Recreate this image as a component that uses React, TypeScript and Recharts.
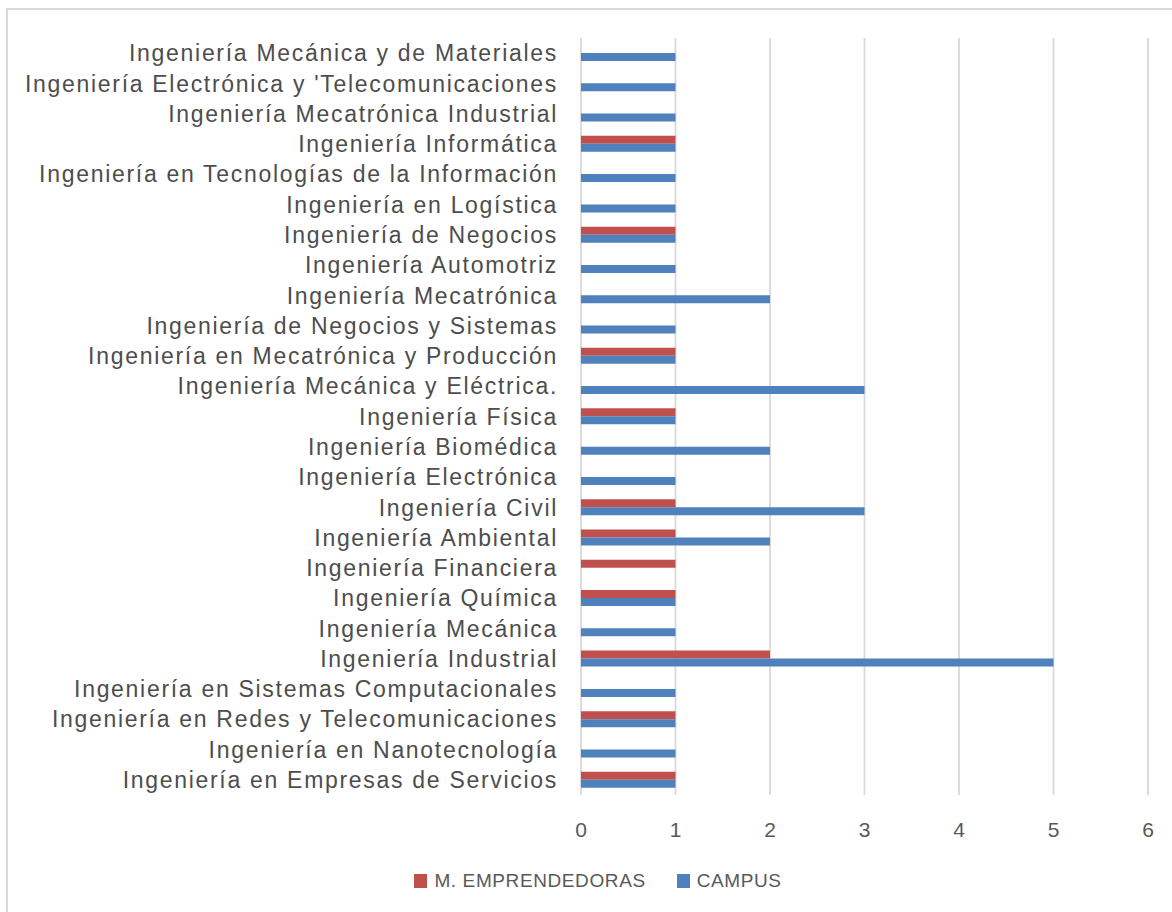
import React from "react";
import { BarChart, Bar, XAxis, YAxis, CartesianGrid, Legend } from "recharts";

const categories = [
  "Ingeniería Mecánica y de Materiales",
  "Ingeniería Electrónica y 'Telecomunicaciones",
  "Ingeniería Mecatrónica Industrial",
  "Ingeniería Informática",
  "Ingeniería en Tecnologías de la Información",
  "Ingeniería en Logística",
  "Ingeniería de Negocios",
  "Ingeniería Automotriz",
  "Ingeniería Mecatrónica",
  "Ingeniería de Negocios y Sistemas",
  "Ingeniería en Mecatrónica y Producción",
  "Ingeniería Mecánica y Eléctrica.",
  "Ingeniería Física",
  "Ingeniería Biomédica",
  "Ingeniería Electrónica",
  "Ingeniería Civil",
  "Ingeniería Ambiental",
  "Ingeniería Financiera",
  "Ingeniería Química",
  "Ingeniería Mecánica",
  "Ingeniería Industrial",
  "Ingeniería en Sistemas Computacionales",
  "Ingeniería en Redes y Telecomunicaciones",
  "Ingeniería en Nanotecnología",
  "Ingeniería en Empresas de Servicios",
];

const emprendedoras = [0, 0, 0, 1, 0, 0, 1, 0, 0, 0, 1, 0, 1, 0, 0, 1, 1, 1, 1, 0, 2, 0, 1, 0, 1];
const campus = [1, 1, 1, 1, 1, 1, 1, 1, 2, 1, 1, 3, 1, 2, 1, 3, 2, 0, 1, 1, 5, 1, 1, 1, 1];
const xTicks = [0, 1, 2, 3, 4, 5, 6];

const seriesNames = ["M. EMPRENDEDORAS", "CAMPUS"];
const colors = ["#C0504D", "#4F81BD"];

const data = categories.map((c, i) => ({
  name: c,
  emp: emprendedoras[i],
  campus: campus[i],
}));

const FONT = "'Liberation Sans', Arial, sans-serif";

const LegendContent = () => (
  <div
    style={{
      display: "flex",
      justifyContent: "center",
      alignItems: "center",
      fontFamily: FONT,
      fontSize: 19,
      letterSpacing: 0.6,
      color: "#595959",
      gap: 31,
      paddingLeft: 48,
      lineHeight: "24px",
    }}
  >
    {seriesNames.map((n, i) => (
      <div key={n} style={{ display: "flex", alignItems: "center" }}>
        <span
          style={{
            display: "inline-block",
            width: 13,
            height: 14,
            background: colors[i],
            marginRight: 7,
          }}
        />
        <span>{n}</span>
      </div>
    ))}
  </div>
);

export default function App() {
  return (
    <div
      style={{
        position: "absolute",
        left: 0,
        top: 0,
        width: 1172,
        height: 912,
        background: "#fff",
        overflow: "hidden",
      }}
    >
      <div
        style={{
          position: "absolute",
          left: 6,
          top: 8,
          width: 1200,
          height: 1000,
          border: "2px solid #d9d9d9",
          boxSizing: "border-box",
        }}
      />
      <div style={{ position: "absolute", left: 0, top: 0 }}>
        <BarChart
          width={1172}
          height={912}
          data={data}
          layout="vertical"
          barSize={8}
          barGap={0}
          margin={{ top: 38, right: 24, bottom: 0, left: 0 }}
        >
          <CartesianGrid horizontal={false} vertical={true} stroke="#d9d9d9" strokeWidth={1.8} />
          <XAxis
            type="number"
            domain={[0, 6]}
            ticks={xTicks}
            axisLine={false}
            tickLine={false}
            tickSize={0}
            tickMargin={27}
            height={93}
            tick={{ fill: "#595959", fontSize: 21, fontFamily: FONT }}
          />
          <YAxis
            type="category"
            dataKey="name"
            width={581}
            axisLine={false}
            tickLine={false}
            tickSize={0}
            tickMargin={23}
            interval={0}
            tick={{ fill: "#4d4d4d", fontSize: 23, fontFamily: FONT, letterSpacing: 1.7 }}
          />
          <Legend
            verticalAlign="bottom"
            height={24}
            wrapperStyle={{ bottom: 19 }}
            content={<LegendContent />}
          />
          <Bar dataKey="emp" name={seriesNames[0]} fill={colors[0]} isAnimationActive={false} />
          <Bar dataKey="campus" name={seriesNames[1]} fill={colors[1]} isAnimationActive={false} />
        </BarChart>
      </div>
    </div>
  );
}
